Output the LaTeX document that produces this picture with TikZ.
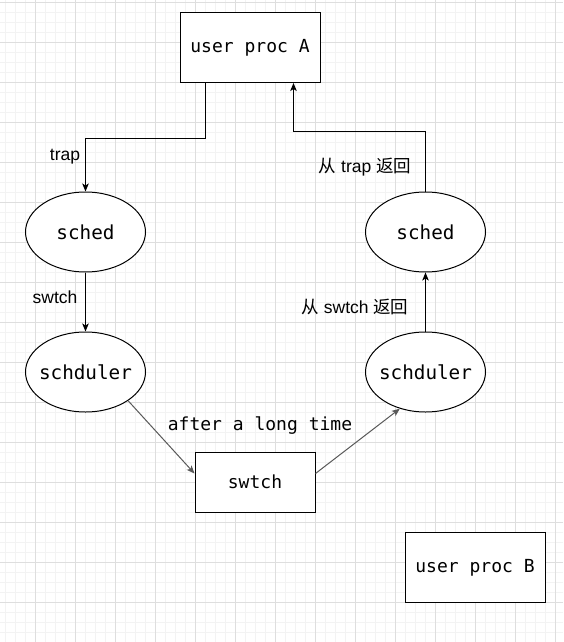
\documentclass[tikz,border=0pt]{standalone}
\usepackage{fontspec}
\setmainfont{Liberation Sans}
\setmonofont{DejaVu Sans Mono}
\newfontfamily\cjk{Noto Sans CJK SC}
\usetikzlibrary{shapes.geometric,arrows.meta}

\definecolor{gridmajor}{HTML}{DEDEDE}
\definecolor{gridminor}{HTML}{F3F3F3}
\definecolor{diagline}{HTML}{595959}

\begin{document}
\begin{tikzpicture}[x=1pt,y=-1pt,>={Stealth[length=8pt,width=6.5pt,inset=2pt]}]
              \tikzset{
                proc/.style={draw,rectangle,line width=1pt,minimum width=140pt,minimum height=70pt,font=\ttfamily\fontsize{18}{20}\selectfont},
                ell/.style={draw,ellipse,line width=1pt,minimum width=120pt,minimum height=80pt,inner xsep=-12pt,inner ysep=0pt,font=\ttfamily\fontsize{19.3}{21}\selectfont},
                lbl/.style={font=\fontsize{17.5}{20}\selectfont,inner sep=0pt},
                monolbl/.style={font=\ttfamily\fontsize{18}{20}\selectfont,inner sep=0pt},
                conn/.style={->,line width=1pt},
              }
                \useasboundingbox[fill=white] (0,0) rectangle (563,642);

                % grid
                \foreach \x in {5.5,15.5,...,555.5} \draw[gridminor,line width=1pt] (\x,0) -- (\x,642);
                \foreach \y in {2.5,12.5,...,632.5} \draw[gridminor,line width=1pt] (0,\y) -- (563,\y);
                \foreach \x in {35.5,75.5,...,555.5} \draw[gridmajor,line width=1pt] (\x,0) -- (\x,642);
                \foreach \y in {2.5,42.5,...,602.5} \draw[gridmajor,line width=1pt] (0,\y) -- (563,\y);

                \node[proc,fill=white] (userA) at (250,47.5) {user proc A};
                \node[proc,fill=white] (userB) at (475,567.5) {user proc B};
                \node[ell,fill=white] (lsched) at (85.5,232) {sched};
                \node[ell,fill=white] (rsched) at (425.5,232) {sched};
                \node[ell,fill=white] (lsch) at (85.5,372) {schduler};
                \node[ell,fill=white] (rsch) at (425.5,372) {schduler};
                \node[proc,fill=white,minimum width=120pt,minimum height=60pt] (swtch) at (255,482) {swtch};

                \node[lbl] (trap) at (65,157) {trap};
                \node[lbl] (swlbl) at (55,297) {swtch};
                \node[lbl] (rettrap) at (365,167) {{\cjk 从} trap {\cjk 返回}};
                \node[lbl] (retsw) at (355,307) {{\cjk 从} swtch {\cjk 返回}};
                \node[monolbl] (after) at (260,426) {after a long time};

                \draw[conn] ([xshift=-45pt]userA.south) -- ++(0,55) -| (lsched.north);
                \draw[conn] (lsched) -- (lsch);
                \draw[conn,diagline] (lsch.-34) -- (swtch.172);
                \draw[conn,diagline] (swtch.8) -- (rsch.-125);
                \draw[conn] (rsch) -- (rsched);
                \draw[conn] (rsched.north) -- ++(0,-60) -| ([xshift=43.5pt]userA.south);
            \end{tikzpicture}
\end{document}
